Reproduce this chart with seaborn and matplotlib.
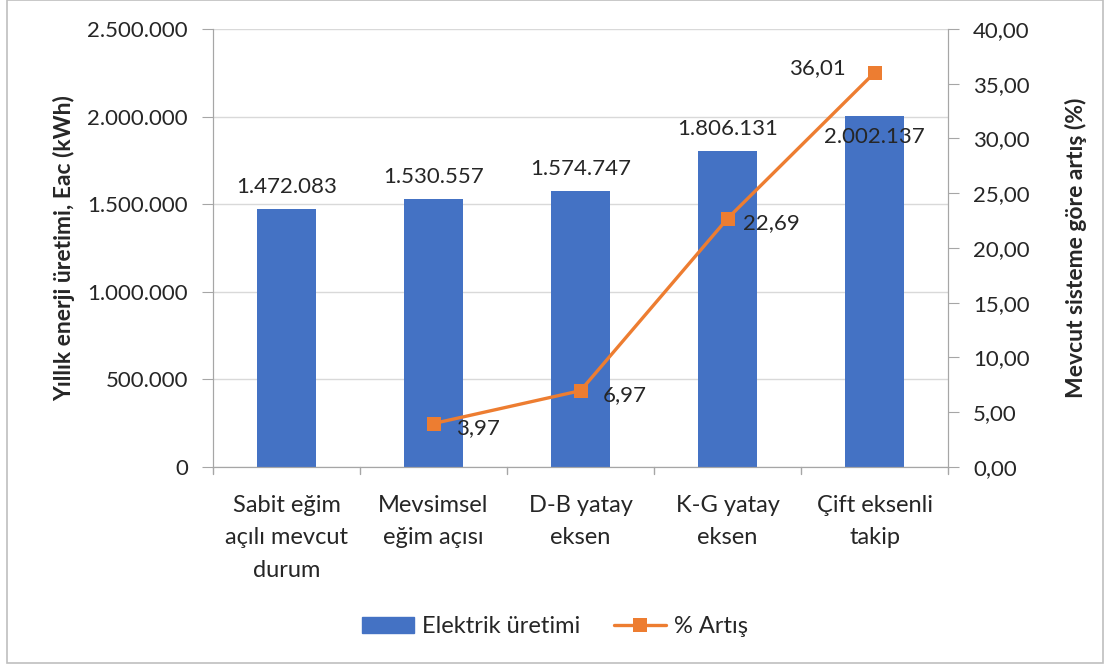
import numpy as np
import pandas as pd
import matplotlib.pyplot as plt
import matplotlib.patches as mpatches
import matplotlib.lines as mlines
from matplotlib.ticker import FuncFormatter
import seaborn as sns

# data
categories = ["Sabit eğim\naçılı mevcut\ndurum", "Mevsimsel\neğim açısı",
              "D-B yatay\neksen", "K-G yatay\neksen", "Çift eksenli\ntakip"]
energy = [1472083, 1530557, 1574747, 1806131, 2002137]
increase = [np.nan, 3.97, 6.97, 22.69, 36.01]
energy_labels = ["1.472.083", "1.530.557", "1.574.747", "1.806.131", "2.002.137"]
increase_labels = ["", "3,97", "6,97", "22,69", "36,01"]

blue = "#4472C4"
orange = "#ED7D31"
grid = "#D9D9D9"
axcol = "#A6A6A6"

sns.set_style("white")
plt.rcParams["font.family"] = ["Lato", "DejaVu Sans"]

df = pd.DataFrame({"cat": categories, "energy": energy, "inc": increase,
                   "pos": np.arange(len(categories))})

fig = plt.figure(figsize=(11.1, 6.68), dpi=100)
ax = fig.add_axes([0.1919, 0.3009, 0.6622, 0.6557])

sns.barplot(data=df, x="cat", y="energy", color=blue, saturation=1,
            width=0.4, linewidth=0, ax=ax, zorder=2)
ax.set_xlim(-0.5, 4.5)
ax.set_ylim(0, 2500000)
ax.set_yticks(np.arange(0, 2500001, 500000))
ax.yaxis.set_major_formatter(FuncFormatter(lambda v, p: f"{int(v):,}".replace(",", ".")))
ax.grid(axis="y", color=grid, lw=1, zorder=0)
ax.set_axisbelow(True)
ax.set_xlabel("")
ax.set_ylabel("Yıllık enerji üretimi, Eac (kWh)", fontsize=16.5, fontweight="bold")
ax.yaxis.set_label_coords(-0.188, 0.5)
ax.tick_params(axis="y", labelsize=16, length=8, color=axcol, direction="out", pad=10)
ax.tick_params(axis="x", labelsize=17, length=0, pad=20)
for lbl in ax.get_xticklabels():
    lbl.set_linespacing(1.68)
ax.spines["top"].set_visible(False)
for s in ["left", "bottom", "right"]:
    ax.spines[s].set_color(axcol)

# category boundary ticks below the x axis
for b in np.arange(-0.5, 4.6, 1.0):
    ax.plot([b, b], [0, -0.017], transform=ax.get_xaxis_transform(),
            color=axcol, lw=1, clip_on=False)

# bar value labels
for i, (v, t) in enumerate(zip(energy, energy_labels)):
    if i == 4:
        ax.text(i, v - 120000, t, ha="center", va="center", fontsize=16)
    else:
        ax.text(i, v + 125000, t, ha="center", va="center", fontsize=16)

ax2 = ax.twinx()
sns.lineplot(data=df, x="pos", y="inc", color=orange, lw=2.4, marker="s",
             markersize=10, markeredgewidth=0, ax=ax2, zorder=3)
ax2.set_ylim(0, 40)
ax2.set_yticks(np.arange(0, 41, 5))
ax2.yaxis.set_major_formatter(FuncFormatter(lambda v, p: f"{v:.2f}".replace(".", ",")))
ax2.set_xlabel("")
ax2.set_ylabel("Mevcut sisteme göre artış (%)", fontsize=16.5, fontweight="bold")
ax2.yaxis.set_label_coords(1.159, 0.5)
ax2.tick_params(axis="y", labelsize=16, length=8, color=axcol, direction="out", pad=10)
ax2.spines["top"].set_visible(False)
for s in ["left", "bottom", "right"]:
    ax2.spines[s].set_color(axcol)
ax2.set_xlim(-0.5, 4.5)

for i, (v, t) in enumerate(zip(increase, increase_labels)):
    if not t:
        continue
    if i == 4:
        ax2.text(i - 0.39, v + 0.4, t, ha="center", va="center", fontsize=16)
    else:
        ax2.text(i + 0.3, v - 0.4, t, ha="center", va="center", fontsize=16)

handles = [mpatches.Patch(color=blue, label="Elektrik üretimi"),
           mlines.Line2D([], [], color=orange, lw=2.4, marker="s", markersize=10,
                         markeredgewidth=0, label="% Artış")]
fig.legend(handles=handles, loc="center", bbox_to_anchor=(0.5, 0.062), ncol=2,
           frameon=False, fontsize=17, handlelength=2.2, handleheight=0.7,
           handletextpad=0.35, columnspacing=1.4)

# outer chart border
fig.patches.append(mpatches.Rectangle((7 / 1110, 5 / 668), 1096 / 1110, 663 / 668,
                                      transform=fig.transFigure, fill=False,
                                      edgecolor="#BFBFBF", lw=1.2))

fig.savefig("out.png", dpi=100)
